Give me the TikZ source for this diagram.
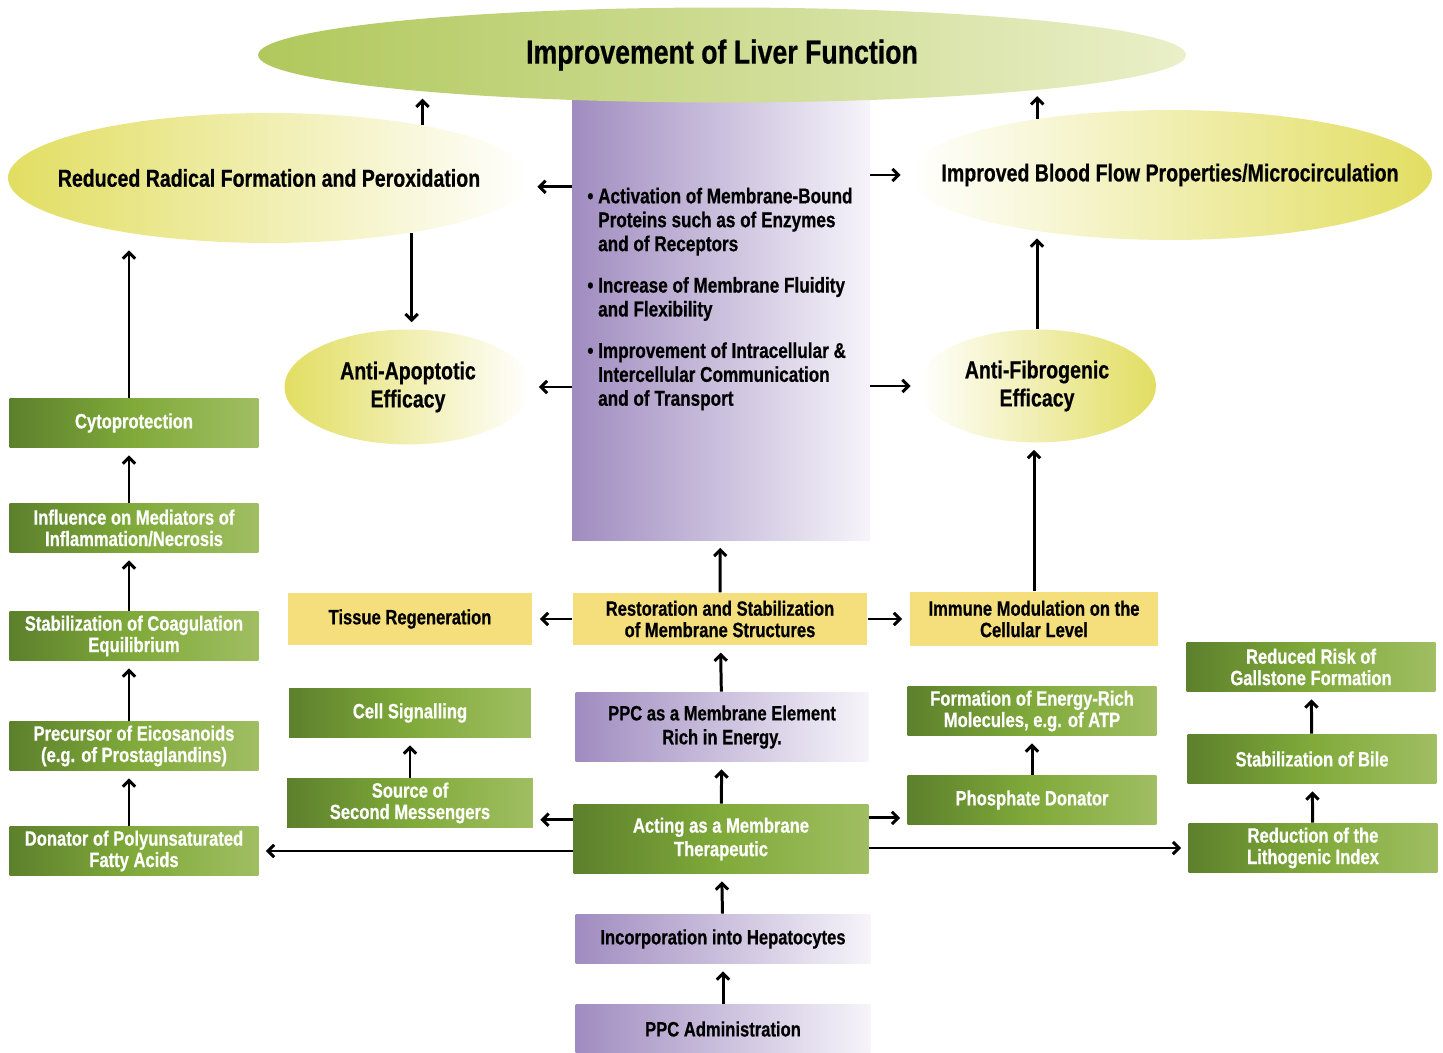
\documentclass[tikz,border=0pt]{standalone}
\usepackage{fontspec}
\setmainfont{Liberation Sans}[FakeStretch=0.8, BoldFeatures={FakeBold=0.6}]
\usetikzlibrary{shapes.geometric, arrows.meta, positioning}
\definecolor{grnDark}{RGB}{92,128,44}
\definecolor{grnMid}{RGB}{128,170,58}
\definecolor{grnLight}{RGB}{160,190,98}
\definecolor{boxYel}{RGB}{245,223,125}
\definecolor{ellYel}{RGB}{226,222,98}
\definecolor{ppcLil}{RGB}{160,140,192}
\definecolor{ppcPale}{RGB}{246,244,250}
\definecolor{livGrn}{RGB}{176,200,92}
\definecolor{livPale}{RGB}{234,239,200}
\tikzset{
    greenbox/.style={rectangle, left color=grnDark, right color=grnLight, middle color=grnMid, text=white, text centered, align=center, inner sep=1pt, minimum width=4.98cm, minimum height=1cm, font=\fontsize{11.8}{12.2}\selectfont\bfseries},
    yellowbox/.style={rectangle, fill=boxYel, text=black, text centered, align=center, inner sep=1pt, minimum height=1.05cm, font=\fontsize{11.8}{12.2}\selectfont\bfseries},
    ppcbox/.style={rectangle, left color=ppcLil, right color=ppcPale, text=black, text centered, align=center, inner sep=1pt, minimum width=5.9cm, minimum height=1cm, font=\fontsize{11.8}{13.6}\selectfont\bfseries},
    yelellipse/.style={ellipse, inner sep=0pt},
    elltext/.style={align=center, text=black, font=\fontsize{13.9}{16}\selectfont\bfseries},
    arrow/.style={line width=1.7pt, -{Straight Barb[length=3.5pt, width=7pt]}, shorten >=4pt}
}

\begin{document}
\begin{tikzpicture}[x=0.02cm, y=-0.02cm]
    \useasboundingbox (0,0) rectangle (1443,1053);
    % Membrane panel and top goal
    \node (panel) [rectangle, left color=ppcLil, right color=ppcPale, minimum width=5.96cm, minimum height=8.9cm] at (721,318) {};
    \node (effects) [align=left, font=\fontsize{12.2}{13.6}\selectfont\bfseries] at (720,299)
        {\textbullet\ Activation of Membrane-Bound\\
         \hphantom{\textbullet\ }Proteins such as of Enzymes\\
         \hphantom{\textbullet\ }and of Receptors\\[10pt]
         \textbullet\ Increase of Membrane Fluidity\\
         \hphantom{\textbullet\ }and Flexibility\\[10pt]
         \textbullet\ Improvement of Intracellular \&\\
         \hphantom{\textbullet\ }Intercellular Communication\\
         \hphantom{\textbullet\ }and of Transport};
    \node (liver) [ellipse, inner sep=0pt, left color=livGrn, right color=livPale, minimum width=18.56cm, minimum height=1.9cm, font=\fontsize{19}{22}\selectfont\bfseries] at (722,55) {Improvement of Liver Function};
    % Ellipses
    \node (radical) [yelellipse, left color=ellYel, right color=white, minimum width=10.44cm, minimum height=2.6cm,
        label={[elltext]center:Reduced Radical Formation and Peroxidation}] at (269,178) {};
    \node (blood) [yelellipse, left color=white, right color=ellYel, minimum width=10.48cm, minimum height=2.6cm,
        label={[elltext]center:Improved Blood Flow Properties/Microcirculation}] at (1170,175) {};
    \node (apoptotic) [yelellipse, left color=ellYel, right color=white, minimum width=4.94cm, minimum height=2.3cm,
        label={[elltext]center:{Anti-Apoptotic\\Efficacy}}] at (408,387) {};
    \node (fibrogenic) [yelellipse, left color=white, right color=ellYel, minimum width=4.76cm, minimum height=2.26cm,
        label={[elltext]center:{Anti-Fibrogenic\\Efficacy}}] at (1037,386) {};
    % Left column
    \node (cyto) [greenbox] at (134,423) {Cytoprotection};
    \node (influence) [greenbox] at (134,528) {Influence on Mediators of\\Inflammation/Necrosis};
    \node (coag) [greenbox] at (134,636) {Stabilization of Coagulation\\Equilibrium};
    \node (precursor) [greenbox] at (134,746) {Precursor of Eicosanoids\\(e.g. of Prostaglandins)};
    \node (donator) [greenbox] at (134,851) {Donator of Polyunsaturated\\Fatty Acids};
    % Middle left column
    \node (tissue) [yellowbox, minimum width=4.9cm] at (410,619) {Tissue Regeneration};
    \node (signal) [greenbox, minimum width=4.84cm] at (410,713) {Cell Signalling};
    \node (messenger) [greenbox, minimum width=4.92cm] at (410,803) {Source of\\Second Messengers};
    % Center column
    \node (restore) [yellowbox, minimum width=5.9cm] at (720,619) {Restoration and Stabilization\\of Membrane Structures};
    \node (element) [ppcbox, minimum width=5.86cm, minimum height=1.4cm] at (722,727) {PPC as a Membrane Element\\Rich in Energy.};
    \node (acting) [greenbox, minimum width=5.9cm, minimum height=1.4cm, font=\fontsize{11.8}{13.4}\selectfont\bfseries] at (721,839) {Acting as a Membrane\\Therapeutic};
    \node (incorp) [ppcbox] at (723,939) {Incorporation into Hepatocytes};
    \node (admin) [ppcbox] at (723,1029) {PPC Administration};
    % Right column
    \node (immune) [yellowbox, minimum width=4.98cm, minimum height=1.1cm] at (1034,619) {Immune Modulation on the\\Cellular Level};
    \node (energy) [greenbox] at (1032,711) {Formation of Energy-Rich\\Molecules, e.g. of ATP};
    \node (phosphate) [greenbox] at (1032,800) {Phosphate Donator};
    % Far right column
    \node (gallstone) [greenbox] at (1311,667) {Reduced Risk of\\Gallstone Formation};
    \node (bile) [greenbox] at (1312,759) {Stabilization of Bile};
    \node (litho) [greenbox] at (1313,848) {Reduction of the\\Lithogenic Index};
    % Arrows
    \draw [arrow] (admin) -- (incorp);
    \draw [arrow] (incorp) -- (acting);
    \draw [arrow] (acting) -- (element);
    \draw [arrow] (element) -- (restore);
    \draw [arrow] (restore) -- (panel);
    \draw [arrow] (restore) -- (tissue);
    \draw [arrow] (restore) -- (immune);
    \draw [arrow] ([yshift=11pt]acting.west) -- ([yshift=11pt]acting.west -| messenger.east);
    \draw [arrow] (acting.west |- donator.east) -- (donator.east);
    \draw [arrow] ([yshift=12pt]acting.east) -- ([yshift=12pt]acting.east -| phosphate.west);
    \draw [arrow] (acting.east |- litho.west) -- (litho.west);
    \draw [arrow] (messenger) -- (signal);
    \draw [arrow] (phosphate) -- (energy);
    \draw [arrow] (litho) -- (bile);
    \draw [arrow] (bile) -- (gallstone);
    \draw [arrow] (donator.north -| 129,0) -- (precursor.south -| 129,0);
    \draw [arrow] (precursor.north -| 129,0) -- (coag.south -| 129,0);
    \draw [arrow] (coag.north -| 129,0) -- (influence.south -| 129,0);
    \draw [arrow] (influence.north -| 129,0) -- (cyto.south -| 129,0);
    \draw [arrow] (cyto.north -| 129,0) -- (radical.south -| 129,0);
    \draw [arrow] (immune.north) -- (immune.north |- fibrogenic.south);
    \draw [arrow] (fibrogenic.north) -- (fibrogenic.north |- blood.203);
    \draw [arrow] ([yshift=-5pt]panel.west |- radical.east) -- ([yshift=-5pt]radical.east);
    \draw [arrow] (panel.east |- blood.west) -- (blood.west);
    \draw [arrow] (panel.west |- apoptotic.east) -- (apoptotic.east);
    \draw [arrow] (panel.east |- fibrogenic.west) -- (fibrogenic.west);
    \draw [arrow] (radical.339) -- (radical.339 |- apoptotic.north);
    \draw [arrow] (radical.19) -- (radical.19 |- liver.187);
    \draw [arrow] (blood.157) -- (blood.157 |- liver.354);
\end{tikzpicture}
\end{document}
